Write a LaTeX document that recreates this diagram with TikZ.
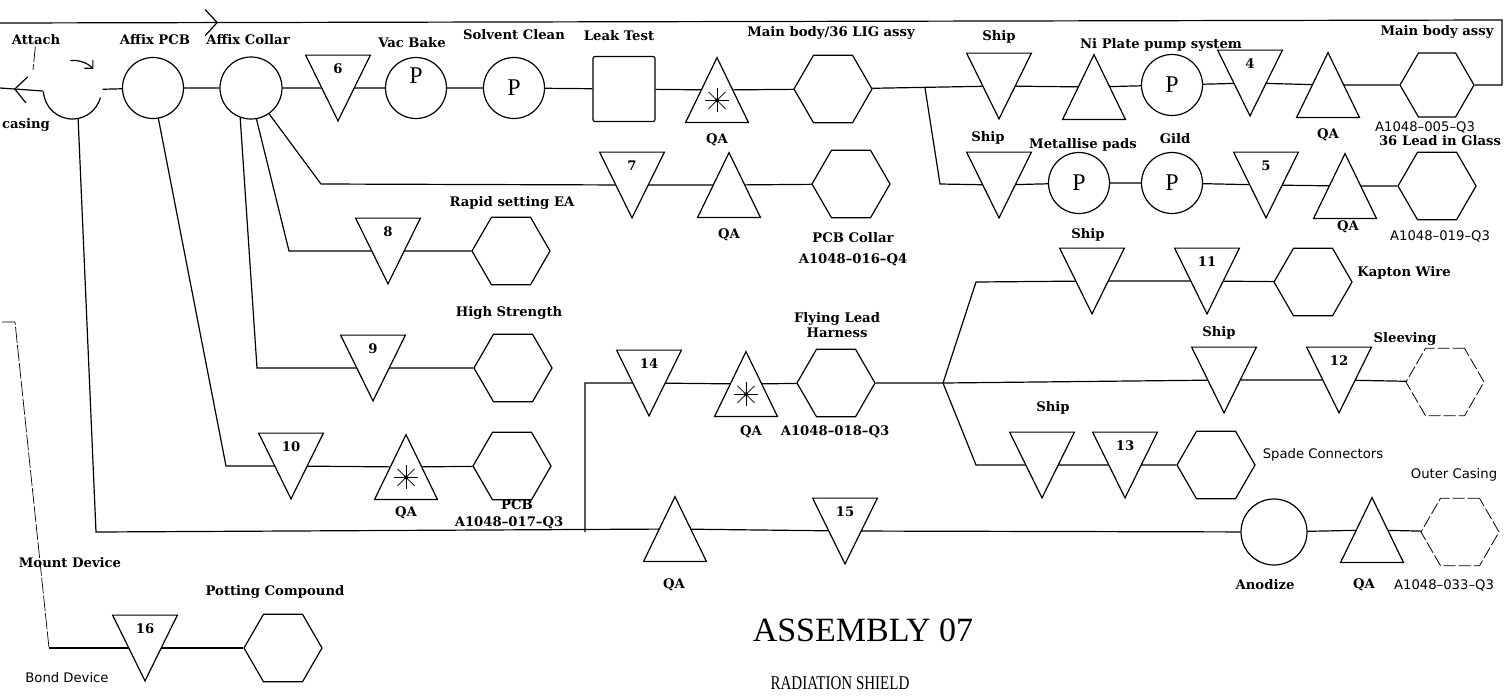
\documentclass[tikz,border=0pt]{standalone}
\usepackage{fontspec}
\usepackage{graphicx}
\setmainfont{Liberation Serif}
\newfontfamily\lblserif{DejaVu Serif}
\newfontfamily\lblsans{DejaVu Sans}
\usetikzlibrary{arrows.meta,positioning,shapes.geometric,calc,decorations.markings}
\tikzset{
  pf/op/.style={draw, circle, line width=0.6pt, minimum size=30.5pt, inner sep=0pt, font=\fontsize{12}{12}\selectfont},
  pf/store/.style={minimum width=16pt, minimum height=32.5pt, inner sep=0pt},
  pf/qa/.style={minimum width=15.5pt, minimum height=32pt, inner sep=0pt},
  pf/part/.style={draw, regular polygon, regular polygon sides=6, minimum size=39pt, inner sep=0pt, line width=0.6pt},
  pf/ghost/.style={pf/part, line width=0.4pt, dash pattern=on 6pt off 1.5pt},
  pf/test/.style={draw, rectangle, rounded corners=1pt, minimum width=31pt, minimum height=32.5pt, line width=0.6pt},
  pf/line/.style={line width=0.6pt},
  pf/faint/.style={line width=0.35pt, dash pattern=on 8pt off 1pt},
  pf/lbl/.style={font=\lblserif\bfseries\fontsize{6.6}{7.4}\selectfont, inner sep=0.5pt, align=center},
  pf/plain/.style={font=\lblsans\fontsize{6.6}{7.4}\selectfont, inner sep=0.5pt},
  pf/num/.style={font=\lblserif\bfseries\fontsize{6.6}{7}\selectfont, anchor=north, inner sep=4pt},
  arrowat/.style={postaction={decorate}, decoration={markings, mark=at position #1 with {\arrow{Straight Barb[length=6pt,width=13pt]}}}},
  arrowbackat/.style={postaction={decorate}, decoration={markings, mark=at position #1 with {\arrowreversed{Straight Barb[length=6pt,width=13pt]}}}}
}
\newcommand\qastar[1]{%
  \coordinate (#1-star) at ($(#1.south)!.34!(#1.north)$);
  \foreach \a in {0,45,90,135}
    \draw[line width=0.4pt] (#1-star) +(\a:6pt) -- +(\a+180:6pt);
  \fill (#1-star) circle (1pt);}

\begin{document}
\begin{tikzpicture}[x=0.5pt, y=-0.5pt]
  \useasboundingbox (0,0) rectangle (1508,697);

  % main body row
  \node[pf/op, draw=none, minimum size=29pt] (attach) at (73,90) {};
  \node[pf/op] (affixpcb) at (153,88) {};
  \node[pf/op, minimum size=31pt] (affixcollar) at (251,88) {};
  \node[pf/store, label={[pf/num]north:6}] (store6) at (338,88) {};
  \node[pf/op] (vacbake) at (416,88) {\raisebox{2.5pt}[0pt][0pt]{P}};
  \node[pf/op] (solvclean) at (514,88) {P};
  \node[pf/test] (leaktest) at (624,89) {};
  \node[pf/qa] (qa1) at (717,90) {};
  \node[pf/part] (mainbody) at (833,89) {};
  \node[pf/store] (ship1) at (999,86) {};
  \node[pf/qa] (qani) at (1094,87) {};
  \node[pf/op] (niplate) at (1172,85) {P};
  \node[pf/store, label={[pf/num]north:4}] (store4) at (1250,83) {};
  \node[pf/qa] (qamb) at (1328,85) {};
  \node[pf/part, minimum size=37pt] (mbassy) at (1437,85) {};

  \node[pf/lbl] (lattach) at (36,40) {Attach};
  \node[pf/lbl] (lcasing) at (26,125) {casing};
  \node[pf/lbl] (laffixpcb) at (155,40) {Affix PCB};
  \node[pf/lbl] (laffixcollar) at (248,40) {Affix Collar};
  \node[pf/lbl] (lvacbake) at (412,43) {Vac Bake};
  \node[pf/lbl] (lsolvclean) at (514,35) {Solvent Clean};
  \node[pf/lbl] (lleaktest) at (619,36) {Leak Test};
  \node[pf/lbl, below=5pt of qa1] (lqa1) {QA};
  \node[pf/lbl] (lmainbody) at (831,33) {Main body/36 LIG assy};
  \node[pf/lbl, above=4pt of ship1] (lship1) {Ship};
  \node[pf/lbl] (lniplate) at (1161,45) {Ni Plate pump system};
  \node[pf/lbl, below=5pt of qamb] (lqamb) {QA};
  \node[pf/lbl] (lmbassy) at (1437,32) {Main body assy};
  \node[pf/plain] (lpn005) at (1425,127) {A1048–005–Q3};
  \node[pf/lbl] (l36lead) at (1440,141) {36 Lead in Glass};

  % glass seal row
  \coordinate (brA) at (925,88);
  \coordinate (brB) at (940,184);
  \node[pf/store] (ship2) at (999,185) {};
  \node[pf/op] (metpads) at (1079,183) {P};
  \node[pf/op] (gild) at (1172,183) {P};
  \node[pf/store, label={[pf/num]north:5}] (store5) at (1266,185) {};
  \node[pf/qa] (qab) at (1345,186) {};
  \node[pf/part] (pn019) at (1437,186) {};

  \node[pf/lbl] (lship2) at (988,138) {Ship};
  \node[pf/lbl] (lmetpads) at (1083,145) {Metallise pads};
  \node[pf/lbl] (lgild) at (1175,139) {Gild};
  \node[pf/lbl] (lqab) at (1348,227) {QA};
  \node[pf/plain] (lpn019) at (1440,236) {A1048–019–Q3};

  % collar rows
  \coordinate (c7) at (321,184);
  \node[pf/store, label={[pf/num]north:7}] (store7) at (632,185) {};
  \node[pf/qa] (qa7) at (729,185) {};
  \node[pf/part] (pcbcollar) at (851,184) {};
  \node[pf/lbl, below=5pt of qa7] (lqa7) {QA};
  \node[pf/lbl] (lpcbcollar) at (853,238) {PCB Collar};
  \node[pf/lbl] (lpn016) at (853,260) {A1048–016–Q4};

  \coordinate (c8) at (289,251);
  \node[pf/store, label={[pf/num]north:8}] (store8) at (388,251) {};
  \node[pf/part] (epoxy) at (511,251) {};
  \node[pf/lbl] (lepoxy) at (512,203) {Rapid setting EA};

  \coordinate (c9) at (257,368);
  \node[pf/store, label={[pf/num]north:9}] (store9) at (373,368) {};
  \node[pf/part] (strength) at (513,368) {};
  \node[pf/lbl] (lstrength) at (509,313) {High Strength};

  \coordinate (c10) at (226,466);
  \node[pf/store, label={[pf/num]north:10}] (store10) at (291,466) {};
  \node[pf/qa] (qa10) at (406,467) {};
  \node[pf/part] (pcb) at (512,466) {};
  \node[pf/lbl] (lqa10) at (406,513) {QA};
  \node[pf/lbl] (lpcb) at (517,505) {PCB};
  \node[pf/lbl] (lpn017) at (509,523) {A1048–017–Q3};

  % flying lead harness
  \coordinate (hb) at (585,532);
  \coordinate (ht) at (585,383);
  \node[pf/store, label={[pf/num]north:14}] (store14) at (649,383) {};
  \node[pf/qa] (qa14) at (746,384) {};
  \node[pf/part] (harness) at (836,383) {};
  \coordinate (fan) at (943,383);
  \node[pf/lbl] (lqa14) at (751,432) {QA};
  \node[pf/lbl] (lpn018) at (835,432) {A1048–018–Q3};
  \node[pf/lbl] (lharness) at (837,325) {Flying Lead\\Harness};

  \coordinate (fanC) at (976,282);
  \node[pf/store] (ship3) at (1092,281) {};
  \node[pf/store, label={[pf/num]north:11}] (store11) at (1207,281) {};
  \node[pf/part] (kapton) at (1313,282) {};
  \node[pf/lbl] (lship3) at (1088,235) {Ship};
  \node[pf/lbl] (lkapton) at (1404,273) {Kapton Wire};

  \node[pf/store] (ship4) at (1224,380) {};
  \node[pf/store, label={[pf/num]north:12}] (store12) at (1339,380) {};
  \node[pf/ghost] (sleeve) at (1445,382) {};
  \node[pf/lbl] (lship4) at (1219,333) {Ship};
  \node[pf/lbl] (lsleeve) at (1405,339) {Sleeving};

  \coordinate (fanE) at (976,465);
  \node[pf/store] (ship5) at (1042,465) {};
  \node[pf/store, label={[pf/num]north:13}] (store13) at (1125,465) {};
  \node[pf/part] (spade) at (1216,465) {};
  \node[pf/lbl] (lship5) at (1053,408) {Ship};
  \node[pf/plain] (lspade) at (1323,455) {Spade Connectors};

  % outer casing row
  \coordinate (ab) at (96,532);
  \node[pf/qa] (qabot) at (675,529) {};
  \node[pf/store, label={[pf/num]north:15}] (store15) at (845,531) {};
  \node[pf/op, minimum size=33pt] (anodize) at (1274,532) {};
  \node[pf/qa] (qaano) at (1372,530) {};
  \node[pf/ghost] (outer) at (1460,532) {};
  \node[pf/lbl] (lqabot) at (674,585) {QA};
  \node[pf/lbl] (lanodize) at (1265,585) {Anodize};
  \node[pf/lbl] (lqaano) at (1364,585) {QA};
  \node[pf/plain] (lpn033) at (1444,585) {A1048–033–Q3};
  \node[pf/plain] (louter) at (1454,475) {Outer Casing};

  % mount device
  \coordinate (mtick) at (2,322);
  \coordinate (mtop) at (15,322);
  \coordinate (mbot) at (49,648);
  \node[pf/store, label={[pf/num]north:16}] (store16) at (145,648) {};
  \node[pf/part] (potting) at (283,648) {};
  \node[pf/lbl] (lmount) at (70,563) {Mount Device};
  \node[pf/lbl] (lpotting) at (275,592) {Potting Compound};
  \node[pf/plain] (lbond) at (67,678) {Bond Device};

  \node (title) at (863,630) {\fontsize{17}{17}\selectfont ASSEMBLY 07};
  \node (subtitle) at (840,683) {\fontsize{7.5}{8}\selectfont\scalebox{1}[1.3]{RADIATION SHIELD}};

  % triangles round the store and QA nodes
  \foreach \n in {store6,ship1,store4,ship2,store5,store7,store8,store9,store10,store14,ship3,store11,ship4,store12,ship5,store13,store15,store16}
    \draw[pf/line] ([xshift=-8pt]\n.north west) -- ([xshift=8pt]\n.north east) -- (\n.south) -- cycle;
  \foreach \n in {qa1,qani,qamb,qab,qa7,qa10,qa14,qabot,qaano}
    \draw[pf/line] ([xshift=-7.75pt]\n.south west) -- ([xshift=7.75pt]\n.south east) -- (\n.north) -- cycle;

  % connectors
  \draw[pf/line, arrowbackat=7pt] (0,88) -- (attach.182);
  \draw[pf/line] (attach.183) arc[start angle=183, end angle=345, radius=14.5pt];
  \draw[pf/line, -{Straight Barb[length=3pt,width=6pt]}] (attach.95) arc[start angle=95, end angle=45, radius=14.5pt];
  \coordinate (atick) at (33,70);
  \draw[pf/faint] (lattach) -- (atick);
  \draw[pf/line] (attach) -- (affixpcb) -- (affixcollar) -- (store6) -- (vacbake) -- (solvclean) -- (leaktest) -- (qa1) -- (mainbody) -- (ship1) -- (qani) -- (niplate) -- (store4) -- (qamb) -- (mbassy);
  \draw[pf/line, arrowat=109pt] (0,23) -- (1502,20) -- (1502,85) -- (mbassy);
  \draw[pf/line] (brA) -- (brB) -- (ship2) -- (metpads) -- (gild) -- (store5) -- (qab) -- (pn019);
  \draw[pf/line] (affixcollar.-55) -- (c7) -- (store7) -- (qa7) -- (pcbcollar);
  \draw[pf/line] (affixcollar.-80) -- (c8) -- (store8) -- (epoxy);
  \draw[pf/line] (affixcollar.-110) -- (c9) -- (store9) -- (strength);
  \draw[pf/line] (affixpcb.-80) -- (c10) -- (store10) -- (qa10) -- (pcb);
  \draw[pf/line] (attach.-80) -- (ab) -- (qabot) -- (store15) -- (anodize) -- (qaano) -- (outer);
  \draw[pf/line] (hb) -- (ht) -- (store14) -- (qa14) -- (harness) -- (fan) -- (ship4) -- (store12) -- (sleeve);
  \draw[pf/line] (fan) -- (fanC) -- (ship3) -- (store11) -- (kapton);
  \draw[pf/line] (fan) -- (fanE) -- (ship5) -- (store13) -- (spade);
  \draw[pf/faint] (mtick) -- (mtop) -- (mbot);
  \draw[pf/line] (mbot) -- (store16) -- (potting);

  \qastar{qa1}
  \qastar{qa10}
  \qastar{qa14}
\end{tikzpicture}
\end{document}
